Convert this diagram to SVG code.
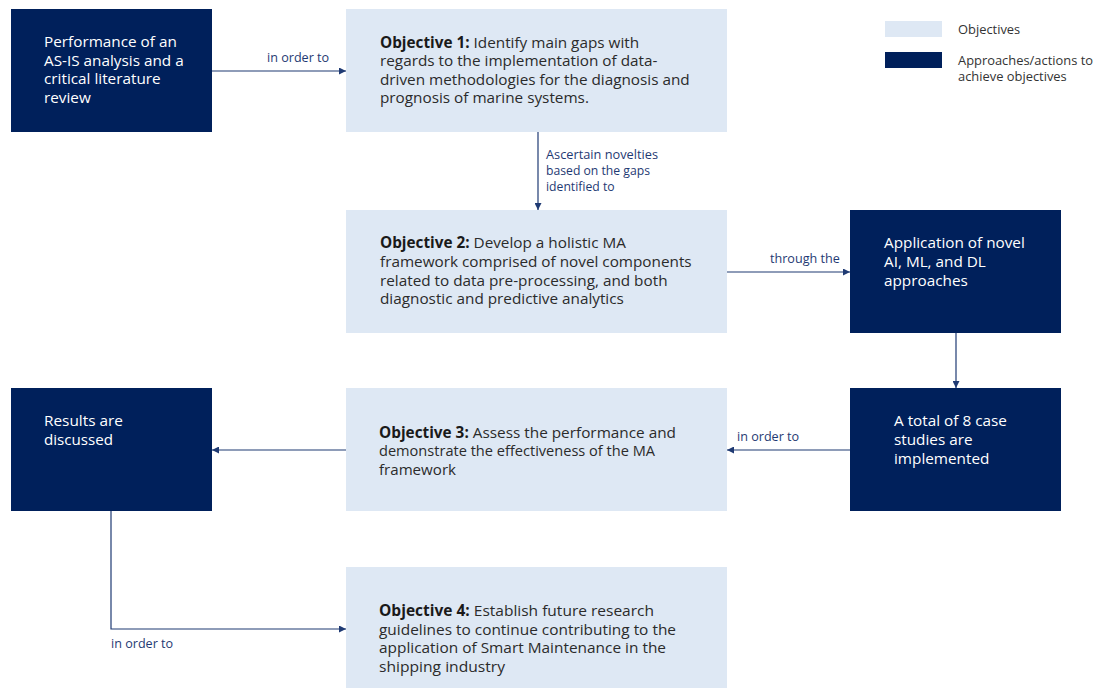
<svg xmlns="http://www.w3.org/2000/svg" width="1101" height="688" viewBox="0 0 1101 688">
  <style>
    .obj { fill: #dee8f4; }
    .act { fill: #00205b; }
    .t { font-family: "Open Sans", "Noto Sans", "DejaVu Sans", sans-serif; font-size: 15.3px; }
    .tw { fill: #ffffff; }
    .td { fill: #2b2b2b; }
    .b { font-weight: bold; fill: #1a1a1a; }
    .lbl { font-family: "Open Sans", "Noto Sans", "DejaVu Sans", sans-serif; font-size: 12.6px; fill: #1f3a73; }
    .lbs { font-size: 12.2px; }
    .leg { font-family: "Open Sans", "Noto Sans", "DejaVu Sans", sans-serif; font-size: 12.9px; fill: #333333; }
    .con { fill: none; stroke: #1f3a73; stroke-width: 1.2; marker-end: url(#ah); }
  </style>
  <defs>
    <marker id="ah" viewBox="0 0 10 10" refX="10" refY="5" markerWidth="7" markerHeight="7" markerUnits="userSpaceOnUse" orient="auto">
      <path d="M0,0 L10,5 L0,10 z" fill="#1f3a73"/>
    </marker>
  </defs>
  <rect width="1101" height="688" fill="#ffffff"/>

  <!-- legend -->
  <g id="legend">
    <rect class="obj" x="885" y="21" width="57" height="16"/>
    <text class="leg" x="958" y="34">Objectives</text>
    <rect class="act" x="885" y="52" width="57" height="16"/>
    <text class="leg" x="958" y="65">Approaches/actions to</text>
    <text class="leg" x="958" y="81">achieve objectives</text>
  </g>

  <!-- connectors -->
  <g id="connectors">
    <path class="con" d="M212,71 H346"/>
    <text class="lbl" x="267" y="62">in order to</text>
    <path class="con" d="M538,132 V210"/>
    <text class="lbl lbs" x="546" y="159" textLength="112" lengthAdjust="spacingAndGlyphs">Ascertain novelties</text>
    <text class="lbl lbs" x="546" y="175">based on the gaps</text>
    <text class="lbl lbs" x="546" y="191">identified to</text>
    <path class="con" d="M727,272 H850"/>
    <text class="lbl" x="770" y="263">through the</text>
    <path class="con" d="M956,333 V388"/>
    <path class="con" d="M850,450 H727"/>
    <text class="lbl" x="737" y="441">in order to</text>
    <path class="con" d="M346,450 H212"/>
    <path class="con" d="M111,511 V629 H346"/>
    <text class="lbl" x="111" y="648">in order to</text>
  </g>

  <g id="asis">
    <rect class="act" x="11" y="9" width="201" height="123"/>
    <text class="t tw" x="44" y="47">Performance of an</text>
    <text class="t tw" x="44" y="66">AS-IS analysis and a</text>
    <text class="t tw" x="44" y="84">critical literature</text>
    <text class="t tw" x="44" y="103">review</text>
  </g>

  <g id="objective1">
    <rect class="obj" x="346" y="9" width="381" height="123"/>
    <text class="t td" x="380" y="48"><tspan class="b">Objective 1:</tspan> Identify main gaps with</text>
    <text class="t td" x="380" y="66">regards to the implementation of data-</text>
    <text class="t td" x="380" y="85">driven methodologies for the diagnosis and</text>
    <text class="t td" x="380" y="103">prognosis of marine systems.</text>
  </g>

  <g id="objective2">
    <rect class="obj" x="346" y="210" width="381" height="123"/>
    <text class="t td" x="380" y="248"><tspan class="b">Objective 2:</tspan> Develop a holistic MA</text>
    <text class="t td" x="380" y="267">framework comprised of novel components</text>
    <text class="t td" x="380" y="286">related to data pre-processing, and both</text>
    <text class="t td" x="380" y="304">diagnostic and predictive analytics</text>
  </g>

  <g id="approaches">
    <rect class="act" x="850" y="210" width="211" height="123"/>
    <text class="t tw" x="884" y="248">Application of novel</text>
    <text class="t tw" x="884" y="267">AI, ML, and DL</text>
    <text class="t tw" x="884" y="286">approaches</text>
  </g>

  <g id="casestudies">
    <rect class="act" x="850" y="388" width="211" height="123"/>
    <text class="t tw" x="894" y="426">A total of 8 case</text>
    <text class="t tw" x="894" y="445">studies are</text>
    <text class="t tw" x="894" y="464">implemented</text>
  </g>

  <g id="results">
    <rect class="act" x="11" y="388" width="201" height="123"/>
    <text class="t tw" x="44" y="426" textLength="79" lengthAdjust="spacingAndGlyphs">Results are</text>
    <text class="t tw" x="44" y="445" textLength="69" lengthAdjust="spacingAndGlyphs">discussed</text>
  </g>

  <g id="objective3">
    <rect class="obj" x="346" y="388" width="381" height="123"/>
    <text class="t td" x="379" y="438" textLength="297" lengthAdjust="spacingAndGlyphs"><tspan class="b">Objective 3:</tspan> Assess the performance and</text>
    <text class="t td" x="379" y="456" textLength="276" lengthAdjust="spacingAndGlyphs">demonstrate the effectiveness of the MA</text>
    <text class="t td" x="379" y="475" textLength="77" lengthAdjust="spacingAndGlyphs">framework</text>
  </g>

  <g id="objective4">
    <rect class="obj" x="346" y="567" width="381" height="121"/>
    <text class="t td" x="379" y="616" textLength="275" lengthAdjust="spacingAndGlyphs"><tspan class="b">Objective 4:</tspan>  Establish future research</text>
    <text class="t td" x="379" y="635" textLength="297" lengthAdjust="spacingAndGlyphs">guidelines to continue contributing to the</text>
    <text class="t td" x="379" y="653" textLength="287" lengthAdjust="spacingAndGlyphs">application of Smart Maintenance in the</text>
    <text class="t td" x="379" y="672" textLength="126" lengthAdjust="spacingAndGlyphs">shipping industry</text>
  </g>
</svg>
